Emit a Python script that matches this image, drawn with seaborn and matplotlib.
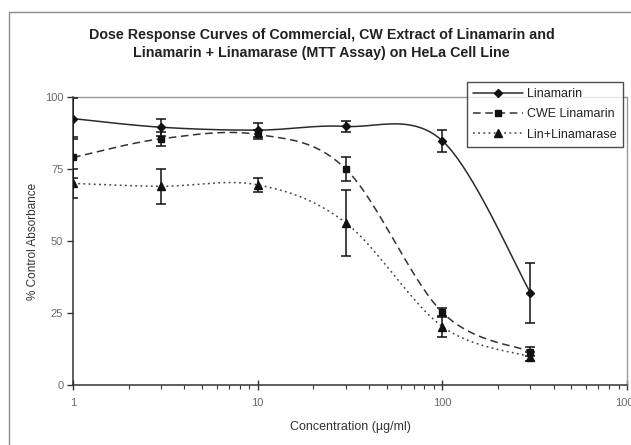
import matplotlib
matplotlib.use("Agg")
import matplotlib.pyplot as plt
import matplotlib.patches as mpatches
from matplotlib.lines import Line2D
import matplotlib.ticker as ticker
import numpy as np
import pandas as pd
import seaborn as sns

# ── Data ────────────────────────────────────────────────────
CONC = [1, 3, 10, 30, 100, 300]
SERIES = ["Linamarin", "CWE Linamarin", "Lin+Linamarase"]

LIN_MEAN = [92.5, 89.5, 88.5, 89.8, 84.8, 32.0]
LIN_ERR = [7.0, 3.0, 2.5, 1.8, 3.8, 10.5]

CWE_MEAN = [79.0, 85.5, 87.0, 75.0, 25.2, 11.6]
CWE_ERR = [7.0, 2.5, 1.5, 4.2, 1.5, 1.5]

LML_MEAN = [70.0, 69.0, 69.5, 56.3, 20.3, 9.8]
LML_ERR = [5.0, 6.0, 2.5, 11.5, 3.7, 1.5]

Y_TICKS = [0, 25, 50, 75, 100]
X_TICKS = [1, 10, 100, 1000]
X_TICK_LABELS = ["1", "10", "100", "1000"]


def smooth(xs, ys, n=40):
    # Excel-style smoothed line (Catmull-Rom) in log-x space
    u = np.log10(np.asarray(xs, float))
    v = np.asarray(ys, float)
    pu = np.concatenate([[u[0]], u, [u[-1]]])
    pv = np.concatenate([[v[0]], v, [v[-1]]])
    out_u, out_v = [], []
    t = np.linspace(0, 1, n)
    for i in range(1, len(pu) - 2):
        for arr, out in ((pu, out_u), (pv, out_v)):
            p0, p1, p2, p3 = arr[i - 1], arr[i], arr[i + 1], arr[i + 2]
            m1 = (p2 - p0) / 2
            m2 = (p3 - p1) / 2
            h00 = 2 * t**3 - 3 * t**2 + 1
            h10 = t**3 - 2 * t**2 + t
            h01 = -2 * t**3 + 3 * t**2
            h11 = t**3 - t**2
            out.extend(h00 * p1 + h10 * m1 + h01 * p2 + h11 * m2)
    return 10 ** np.array(out_u), np.array(out_v)


sns.set_theme(style="white")
plt.rcParams["font.family"] = ["Liberation Sans", "DejaVu Sans"]

fig = plt.figure(figsize=(6.31, 4.45), dpi=100)
ax = fig.add_axes([0.1157, 0.1348, 0.878, 0.6472])

# outer chart frame (Excel chart area)
fig.patches.append(mpatches.Rectangle((8.5 / 631, -0.1), 1.2, 1 - 12.5 / 445 + 0.1,
                                      transform=fig.transFigure, fill=False,
                                      edgecolor="#8c8c8c", linewidth=1.0))

styles = {
    "Linamarin": dict(ls="-", marker="D", ms=4.5, color="#2b2b2b"),
    "CWE Linamarin": dict(ls=(0, (5, 3)), marker="s", ms=5, color="#333333"),
    "Lin+Linamarase": dict(ls=(0, (1.2, 2.2)), marker="^", ms=5.5, color="#444444"),
}
means = {"Linamarin": LIN_MEAN, "CWE Linamarin": CWE_MEAN, "Lin+Linamarase": LML_MEAN}
errs = {"Linamarin": LIN_ERR, "CWE Linamarin": CWE_ERR, "Lin+Linamarase": LML_ERR}

handles = []
for name in SERIES:
    st = styles[name]
    sx, sy = smooth(CONC, means[name])
    df = pd.DataFrame({"conc": sx, "val": sy})
    sns.lineplot(data=df, x="conc", y="val", ax=ax, sort=False, estimator=None,
                 color=st["color"], linestyle=st["ls"], linewidth=1.1)
    ax.errorbar(CONC, means[name], yerr=errs[name], fmt="none", ecolor="#111111",
                elinewidth=1.1, capsize=3.5, capthick=1.1, zorder=3)
    ax.plot(CONC, means[name], linestyle="none", marker=st["marker"], ms=st["ms"],
            color="#111111", zorder=4)
    handles.append(Line2D([], [], color=st["color"], linestyle=st["ls"], linewidth=1.1,
                          marker=st["marker"], ms=st["ms"], markerfacecolor="#111111",
                          markeredgecolor="#111111"))

ax.set_xscale("log")
ax.set_xlim(1, 1000)
ax.set_ylim(0, 100)
ax.set_yticks(Y_TICKS)
ax.set_yticklabels([str(v) for v in Y_TICKS])
ax.set_xticks(X_TICKS)
ax.set_xticklabels(X_TICK_LABELS)
ax.xaxis.set_minor_locator(ticker.LogLocator(base=10, subs=np.arange(2, 10)))
ax.xaxis.set_minor_formatter(ticker.NullFormatter())

ax.tick_params(axis="y", which="major", direction="out", length=4, width=1,
               color="#333333", labelsize=8, labelcolor="#6a6a6a", pad=3, left=True)
ax.tick_params(axis="x", which="major", direction="inout", length=7, width=1,
               color="#333333", labelsize=8, labelcolor="#6a6a6a", pad=6, bottom=True)
ax.tick_params(axis="x", which="minor", direction="out", length=3, width=0.8,
               color="#333333", bottom=True)

for side in ["left", "bottom"]:
    ax.spines[side].set_color("#333333")
    ax.spines[side].set_linewidth(1.1)
for side in ["top", "right"]:
    ax.spines[side].set_color("#9a9a9a")
    ax.spines[side].set_linewidth(1.0)

ax.set_xlabel("Concentration (\u00b5g/ml)", fontsize=9, color="#333333", labelpad=9)
ax.set_ylabel("% Control Absorbance", fontsize=8.5, color="#333333", labelpad=4)

fig.text(0.51, 1 - 44 / 445,
         "Dose Response Curves of Commercial, CW Extract of Linamarin and\n"
         "Linamarin + Linamarase (MTT Assay) on HeLa Cell Line",
         ha="center", va="center", fontsize=10.3, fontweight="bold", color="#222222",
         linespacing=1.4)

leg = fig.legend(handles, SERIES, loc="upper right",
                 bbox_to_anchor=(623 / 631, 1 - 82 / 445), borderaxespad=0,
                 fontsize=9, frameon=True, fancybox=False, edgecolor="#222222",
                 handlelength=4.0, handletextpad=0.3, borderpad=0.5,
                 labelspacing=0.65, labelcolor="#222222")
leg.get_frame().set_linewidth(1.0)

fig.savefig("out.png", dpi=100)
